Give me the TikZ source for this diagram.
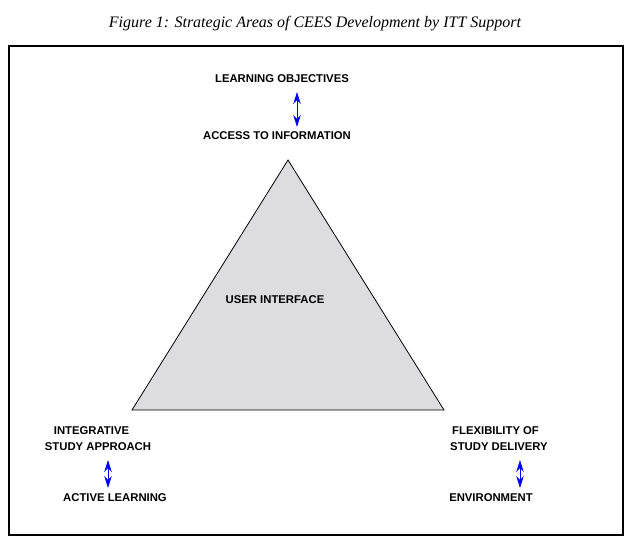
\documentclass[tikz,border=0pt]{standalone}
\usepackage{fontspec}
\setmainfont{Liberation Serif}
\setsansfont{Liberation Sans}
\usepackage{tikz}
\usepackage{xcolor}
\usetikzlibrary{arrows.meta,positioning,calc}
\definecolor{areaGray}{RGB}{221,221,224}
\definecolor{linkBlue}{RGB}{0,0,255}

\tikzset{
  area/.style={font=\sffamily\bfseries\fontsize{11.3}{16}\selectfont, align=center, inner sep=0pt},
  link/.style={linkBlue, line width=0.8pt, {Stealth[length=12pt,width=7.5pt]}-{Stealth[length=12pt,width=7.5pt]}}
}

\begin{document}
\begin{tikzpicture}[x=1pt,y=-1pt]
                    \useasboundingbox (0,0) rectangle (631,544);
                    \node[font=\itshape\fontsize{16}{18}\selectfont] (title) at (315,24) {Figure 1: Strategic Areas of CEES Development by ITT Support};
                    \draw[line width=2pt] (9,46) rectangle (623,535);

                    \coordinate (T) at (288,160);
                    \coordinate (L) at (132,410);
                    \coordinate (R) at (444,410);
                    \draw[fill=areaGray, line width=0.8pt] (T) -- (L) -- (R) -- cycle;
                    \node[area] (ui) at (275,300) {USER INTERFACE};

                    \node[area] (obj) at (282,79) {LEARNING OBJECTIVES};
                    \node[area] (acc) at (277,136) {ACCESS TO INFORMATION};
                    \node[area, align=left] (isa) at (98,439) {\hspace*{9pt}INTEGRATIVE\\STUDY APPROACH};
                    \node[area] (act) at (115,498) {ACTIVE LEARNING};
                    \node[area, align=left] (fsd) at (499,439) {\hspace*{2pt}FLEXIBILITY OF\\STUDY DELIVERY};
                    \node[area] (env) at (491,498) {ENVIRONMENT};

                    \coordinate (a1) at (297,92);  \coordinate (a2) at (297,127);
                    \coordinate (b1) at (108,460); \coordinate (b2) at (108,488);
                    \coordinate (c1) at (520,460); \coordinate (c2) at (520,488);
                    \draw[link] (a1) -- (a2);
                    \draw[link] (b1) -- (b2);
                    \draw[link] (c1) -- (c2);
                \end{tikzpicture}
\end{document}
